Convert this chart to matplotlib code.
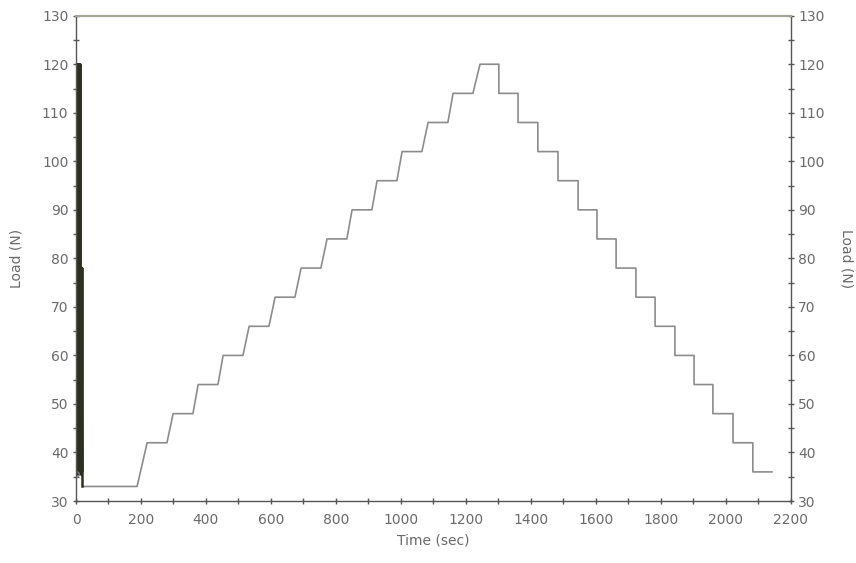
import numpy as np
import matplotlib.pyplot as plt
from matplotlib.ticker import MultipleLocator

# initial burst near t=0 (dense oscillation, drawn dark)
burst_t = [0, 1, 2, 3, 4, 5, 6, 7, 8, 9, 10, 11, 12, 13, 14, 15, 16, 17, 18, 19, 20]
burst_load = [35.5, 120, 36, 120, 35.5, 120, 36, 120, 35.5, 120, 36, 120,
              35.5, 120, 36, 78, 35.5, 78, 36, 78, 33]

# staircase load profile (sec, N)
step_t = [20, 188, 219, 280, 299, 360, 376, 437, 453, 514, 533, 594, 613,
          674, 693, 754, 773, 834, 850, 911, 927, 988, 1004, 1065, 1084,
          1145, 1161, 1222, 1244, 1302, 1302, 1361, 1361, 1422, 1422, 1484,
          1484, 1546, 1546, 1604, 1604, 1663, 1663, 1724, 1724, 1783, 1783,
          1844, 1844, 1903, 1903, 1961, 1961, 2023, 2023, 2084, 2084, 2143]
step_load = [33, 33, 42, 42, 48, 48, 54, 54, 60, 60, 66, 66, 72,
             72, 78, 78, 84, 84, 90, 90, 96, 96, 102, 102, 108,
             108, 114, 114, 120, 120, 114, 114, 108, 108, 102, 102,
             96, 96, 90, 90, 84, 84, 78, 78, 72, 72, 66, 66,
             60, 60, 54, 54, 48, 48, 42, 42, 36, 36]

txt = '#6a6a6a'
fig = plt.figure(figsize=(8.56, 5.63), dpi=100)
ax = fig.add_axes([0.0888, 0.1101, 0.8347, 0.862])

ax.plot(step_t, step_load, color='#8c8c8c', lw=1.2)
ax.plot(burst_t, burst_load, color='#2c3020', lw=1.8)
ax.plot([0], [35.5], marker='o', ms=4, mfc='none', mec='#8c8c8c', mew=0.8)

ax.set_xlim(0, 2200)
ax.set_ylim(30, 130)
ax.xaxis.set_major_locator(MultipleLocator(200))
ax.xaxis.set_minor_locator(MultipleLocator(100))
ax.yaxis.set_major_locator(MultipleLocator(10))
ax.yaxis.set_minor_locator(MultipleLocator(5))

ax.tick_params(which='both', direction='inout', length=5, width=1,
               color='#555555', labelcolor=txt, labelsize=10,
               left=True, right=True, top=False, labelright=True)
ax.tick_params(axis='x', pad=6)
ax.tick_params(axis='y', pad=3)

for s in ['left', 'right', 'bottom']:
    ax.spines[s].set_color('#555555')
    ax.spines[s].set_linewidth(1.0)
ax.spines['top'].set_color('#a4a494')
ax.spines['top'].set_linewidth(1.6)

ax.set_xlabel('Time (sec)', color=txt, fontsize=10, labelpad=5)
ax.set_ylabel('Load (N)', color=txt, fontsize=10, labelpad=13)
ax.text(1.079, 0.5, 'Load (N)', transform=ax.transAxes, rotation=270,
        ha='center', va='center', color=txt, fontsize=10)

fig.savefig('out.png', dpi=100)
